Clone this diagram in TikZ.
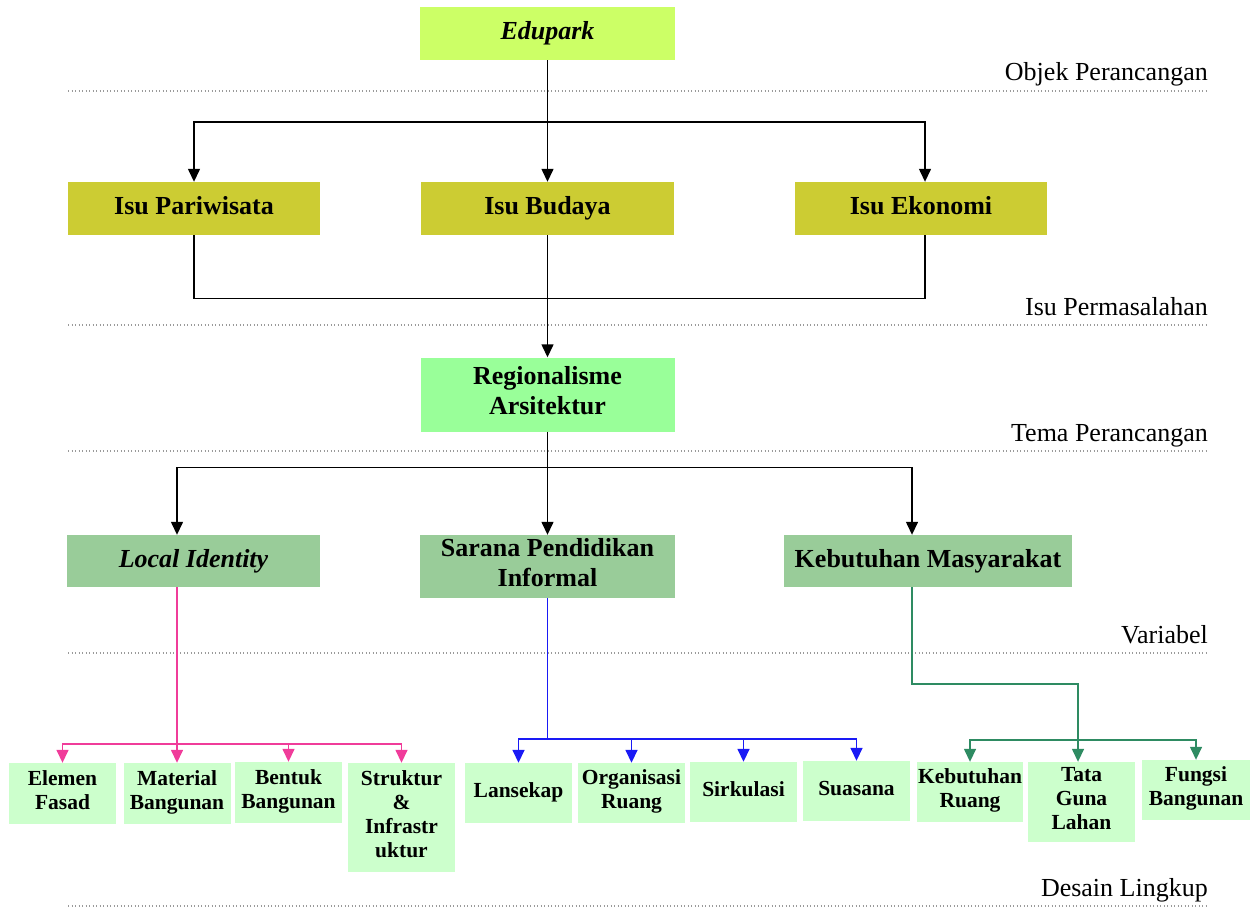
\documentclass[tikz,border=0pt]{standalone}
\usepackage{fontspec}
\setmainfont{Liberation Serif}
\usetikzlibrary{arrows.meta,calc}
\definecolor{objfill}{HTML}{CCFF66}
\definecolor{isufill}{HTML}{CCCC33}
\definecolor{temafill}{HTML}{99FF99}
\definecolor{varfill}{HTML}{99CC99}
\definecolor{subfill}{HTML}{CCFFCC}
\definecolor{pinkline}{HTML}{F03C9A}
\definecolor{blueline}{HTML}{1A1AF5}
\definecolor{tealline}{HTML}{2E8B62}
\definecolor{dotgray}{HTML}{9A9A9A}
\begin{document}
\begin{tikzpicture}[x=1pt,y=-1pt,
  bigbox/.style={inner sep=0pt, align=center, font=\fontsize{26}{30}\selectfont\bfseries,
    execute at begin node=\strut, execute at end node=\strut},
  smallbox/.style={inner sep=0pt, align=center, fill=subfill, minimum width=107pt,
    font=\fontsize{21.5}{24}\selectfont\bfseries,
    execute at begin node=\strut, execute at end node=\strut},
  conn/.style={line width=1.4pt, black},
  tip/.style={-{Triangle[width=12pt,length=13pt]}},
  pinkconn/.style={pinkline, line width=1.5pt},
  blueconn/.style={blueline, line width=1.6pt},
  tealconn/.style={tealline, line width=1.5pt},
  level/.style={dotgray, line width=1.3pt, dash pattern=on 1.3pt off 2.2pt},
  levellabel/.style={anchor=base east, inner sep=0pt, font=\fontsize{26}{29}\selectfont}]
\useasboundingbox (0,0) rectangle (1252,909);

% level separators and their labels
\draw[level] (68,91) -- (1208,91);
\draw[level] (68,325) -- (1208,325);
\draw[level] (68,451) -- (1208,451);
\draw[level] (68,653) -- (1208,653);
\draw[level] (68,906) -- (1208,906);
\node[levellabel] (l1) at (1208,81) {Objek Perancangan};
\node[levellabel] (l2) at (1208,315) {Isu Permasalahan};
\node[levellabel] (l3) at (1208,441) {Tema Perancangan};
\node[levellabel] (l4) at (1208,643) {Variabel};
\node[levellabel] (l5) at (1208,896) {Desain Lingkup};

% object, issues, theme, variables
\node[bigbox, fill=objfill, minimum width=255pt, minimum height=53pt] (edu) at (547.5,33.5) {\itshape Edupark};
\node[bigbox, fill=isufill, minimum width=252pt, minimum height=53pt] (par) at (194,208.5) {Isu Pariwisata};
\node[bigbox, fill=isufill, minimum width=253pt, minimum height=53pt] (bud) at (547.5,208.5) {Isu Budaya};
\node[bigbox, fill=isufill, minimum width=252pt, minimum height=53pt] (eko) at (921,208.5) {Isu Ekonomi};
\node[bigbox, fill=temafill, minimum width=254pt, minimum height=74pt] (reg) at (547.5,394.5) {Regionalisme\\Arsitektur};
\node[bigbox, fill=varfill, minimum width=253pt, minimum height=52pt] (loc) at (193.5,561) {\itshape Local Identity};
\node[bigbox, fill=varfill, minimum width=255pt, minimum height=63pt] (sar) at (547.5,566.5) {Sarana Pendidikan\\Informal};
\node[bigbox, fill=varfill, minimum width=288pt, minimum height=52pt] (keb) at (928,561) {Kebutuhan Masyarakat};

% design scope items
\node[smallbox, minimum height=61pt] (ele) at (62.5,793.5) {Elemen\\Fasad};
\node[smallbox, minimum height=61pt] (mat) at (177,793.5) {Material\\Bangunan};
\node[smallbox, minimum height=61pt] (ben) at (288.5,792.5) {Bentuk\\Bangunan};
\node[smallbox, minimum height=109pt] (str) at (401.5,817.5) {Struktur\\\&\\Infrastr\\uktur};
\node[smallbox, minimum height=60pt] (lan) at (518.5,793) {Lansekap};
\node[smallbox, minimum height=60pt] (org) at (631.5,793) {Organisasi\\Ruang};
\node[smallbox, minimum height=60pt] (sir) at (743.5,792) {Sirkulasi};
\node[smallbox, minimum height=60pt] (sua) at (856.5,791) {Suasana};
\node[smallbox, minimum height=60pt, minimum width=106pt] (kru) at (970,792) {Kebutuhan\\Ruang};
\node[smallbox, minimum height=80pt] (tat) at (1081.5,802) {Tata\\Guna\\Lahan};
\node[smallbox, minimum height=60pt, minimum width=108pt] (fun) at (1196,790) {Fungsi\\Bangunan};

% object to issues
\draw[conn, tip] (edu.south) -- (bud.north);
\draw[conn, tip] (edu.south) ++(0,62) -| (par.north);
\draw[conn, tip] (edu.south) ++(0,62) -| ($(eko.north)+(4,0)$);

% issues to theme
\draw[conn] (par.south) -- ++(0,63) -| ($(eko.south)+(4,0)$);
\draw[conn, tip] (bud.south) -- (reg.north);

% theme to variables
\draw[conn, tip] (reg.south) -- (sar.north);
\draw[conn, tip] (reg.south) ++(0,36) -| ($(loc.north)+(-16.5,0)$);
\draw[conn, tip] (reg.south) ++(0,36) -| ($(keb.north)+(-16,0)$);

% Local Identity branch
\draw[pinkconn, tip] ($(loc.south)+(-16.5,0)$) -- (mat.north);
\draw[pinkconn, tip] (mat.north) ++(0,-19) -| (ele.north);
\draw[pinkconn, tip] (mat.north) ++(0,-19) -| (ben.north);
\draw[pinkconn, tip] (mat.north) ++(0,-19) -| (str.north);

% Sarana Pendidikan Informal branch
\draw[blueconn] (sar.south) -- ++(0,141) coordinate (bsplit);
\draw[blueconn, tip] (bsplit) -| (lan.north);
\draw[blueconn, tip] (bsplit) -| (org.north);
\draw[blueconn, tip] (bsplit) -| (sir.north);
\draw[blueconn, tip] (bsplit) -| (sua.north);

% Kebutuhan Masyarakat branch
\draw[tealconn, tip] ($(keb.south)+(-16,0)$) -- ++(0,97) -| ($(tat.north)+(-3.5,0)$);
\draw[tealconn, tip] ($(tat.north)+(-3.5,-22)$) -| (kru.north);
\draw[tealconn, tip] ($(tat.north)+(-3.5,-22)$) -| (fun.north);
\end{tikzpicture}
\end{document}
